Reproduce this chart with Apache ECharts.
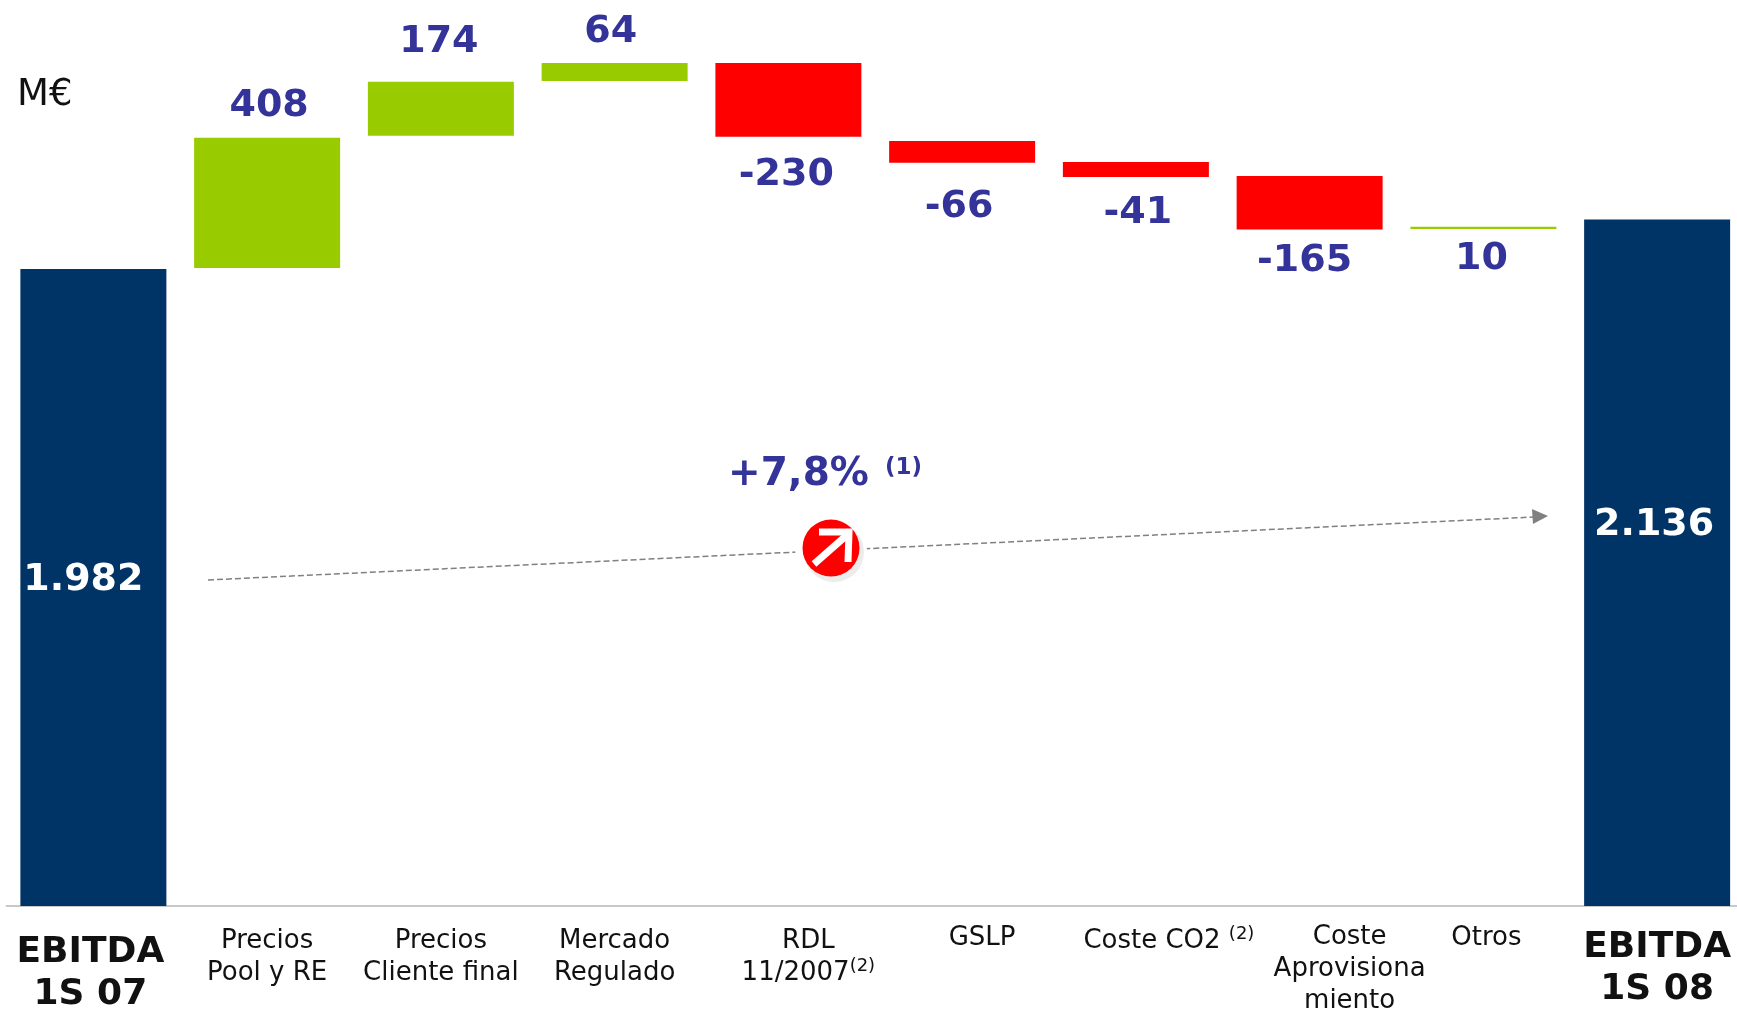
<!DOCTYPE html>
<html>
<head>
	<meta charset="utf-8">
	<title>EBITDA 1S 08</title>
	<script type="text/javascript" src="https://cdn.jsdelivr.net/npm/echarts@6/dist/echarts.min.js"></script>
	<style>
		body { margin: 0; background: #fff; }
	</style>
</head>

<body>
	<div style="height: 1010px; width: 1737px" id="main"></div>

	<script type="text/javascript">
		var categories = ['EBITDA\n1S 07', 'Precios\nPool y RE', 'Precios\nCliente final', 'Mercado\nRegulado', 'RDL\n11/2007(2)',
			'GSLP', 'Coste CO2 (2)', 'Coste\nAprovisiona\nmiento', 'Otros', 'EBITDA\n1S 08'];
		// bar ends as drawn in the picture (they do not add up exactly)
		var barLow = [0, 1985, 2396, 2567, 2393, 2312, 2268, 2105, 2106, 0];
		var barHigh = [1982, 2390, 2564, 2623, 2623, 2380, 2315, 2271, 2113, 2136];
		var barLabels = ['1.982', '408', '174', '64', '-230', '-66', '-41', '-165', '10', '2.136'];
		var barKinds = ['total', 'up', 'up', 'up', 'down', 'down', 'down', 'down', 'up', 'total'];

		var FONT = 'Verdana, "DejaVu Sans", sans-serif';
		var kindColor = { total: '#003366', up: '#99CC00', down: '#FF0000' };
		var labelPos = ['inside', 'top', 'top', 'top', 'bottom', 'bottom', 'bottom', 'bottom', 'bottom', 'inside'];
		// label nudges, px
		var labelOffset = [[-10, -7], [2, -13], [-2, -21], [-4, -12], [-2, 19], [-3, 25], [2, 17], [-5, 13], [-2, 11], [-3, -38]];
		var catShiftX = [-3, 0, 0, 0, 20, 20, 33, 40, 3, 0];
		var catPadTop = [26, 19, 19, 19, 19, 16, 19, 15, 16, 21];

		var chart = echarts.init(document.getElementById('main'));

		function catItem(name, i) {
			var dx = catShiftX[i];
			var isTotal = barKinds[i] === 'total';
			return {
				value: name,
				textStyle: {
					fontSize: isTotal ? 36 : 26,
					fontWeight: isTotal ? 'bold' : 'normal',
					lineHeight: isTotal ? 42 : 32,
					padding: [catPadTop[i], dx < 0 ? -2 * dx : 0, 0, dx > 0 ? 2 * dx : 0]
				}
			};
		}

		var option = {
			animation: false,
			backgroundColor: '#fff',
			grid: { left: 6.5, right: -7, top: 6, bottom: 104, outerBoundsMode: 'none' },
			xAxis: {
				type: 'category',
				data: categories.map(catItem),
				axisTick: { show: false },
				axisLine: { lineStyle: { color: '#c8c8c8', width: 2 } },
				axisLabel: {
					interval: 0,
					margin: 0,
					color: '#111',
					fontFamily: FONT,
					formatter: function (v) { return v.replace('(2)', '{sup|(2)}'); },
					rich: {
						sup: { fontSize: 18, fontFamily: FONT, color: '#111', verticalAlign: 'top', padding: [0, 0, 8, 0] }
					}
				}
			},
			yAxis: { type: 'value', min: 0, max: 2800, show: false },
			series: [
				{
					type: 'bar',
					stack: 'w',
					barWidth: 146,
					silent: true,
					itemStyle: { color: 'transparent' },
					data: barLow
				},
				{
					type: 'bar',
					stack: 'w',
					barWidth: 146,
					data: barHigh.map(function (h, i) {
						var kind = barKinds[i];
						return {
							value: h - barLow[i],
							itemStyle: { color: kindColor[kind] },
							label: {
								show: true,
								position: labelPos[i],
								distance: 0,
								offset: labelOffset[i],
								formatter: barLabels[i],
								color: kind === 'total' ? '#fff' : '#333399',
								fontFamily: FONT,
								fontWeight: 'bold',
								fontSize: 38
							}
						};
					})
				}
			],
			graphic: [
				{ type: 'text', left: 17, top: 77, style: { text: 'M€', font: '37px ' + FONT, fill: '#111' } },
				{ type: 'line', z: 10, shape: { x1: 208, y1: 580, x2: 1534, y2: 517 }, style: { stroke: '#808080', lineWidth: 1.5, lineDash: [6, 3] } },
				{ type: 'polygon', z: 10, shape: { points: [[1548, 516], [1532, 509], [1533, 524]] }, style: { fill: '#808080' } },
				{ type: 'circle', z: 11, shape: { cx: 831, cy: 549, r: 36 }, style: { fill: '#fff' } },
				{ type: 'circle', z: 11, shape: { cx: 834, cy: 552, r: 30 }, style: { fill: '#ececec' } },
				{ type: 'circle', z: 12, shape: { cx: 831, cy: 548, r: 28.5 }, style: { fill: '#FF0000' } },
				{ type: 'polyline', z: 13, shape: { points: [[819, 532], [849, 532], [848, 562]] }, style: { stroke: '#fff', lineWidth: 7, fill: null } },
				{ type: 'line', z: 13, shape: { x1: 814, y1: 564, x2: 847, y2: 535 }, style: { stroke: '#fff', lineWidth: 7 } },
				{
					type: 'text', z: 14, left: 728, top: 455,
					style: {
						text: '+7,8%',
						font: 'bold 39px ' + FONT,
						fill: '#333399'
					}
				},
				{
					type: 'text', z: 14, left: 885, top: 457,
					style: {
						text: '(1)',
						font: 'bold 23px ' + FONT,
						fill: '#333399'
					}
				}
			]
		};

		chart.setOption(option);
	</script>
</body>
</html>
